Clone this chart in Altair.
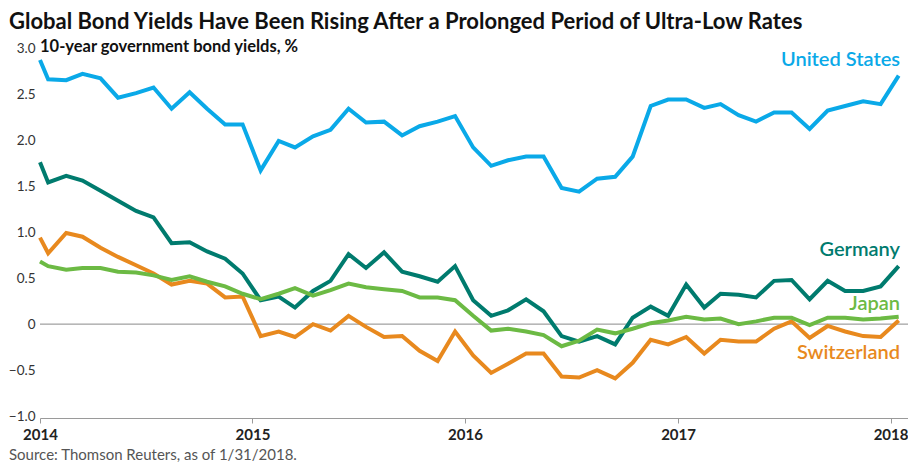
import altair as alt
import pandas as pd

# ---- data -------------------------------------------------------------
dates = ["2014-01-01"] + [f"{y}-{m:02d}-15" for y in range(2014, 2018) for m in range(1, 13)] + ["2018-01-15"]

united_states = [2.87, 2.66, 2.65, 2.72, 2.67, 2.46, 2.51, 2.57, 2.34, 2.52,
                 2.34, 2.17, 2.17, 1.67, 1.99, 1.92, 2.04, 2.11, 2.34, 2.19,
                 2.20, 2.05, 2.15, 2.20, 2.26, 1.92, 1.72, 1.78, 1.82, 1.82,
                 1.48, 1.44, 1.58, 1.60, 1.82, 2.37, 2.44, 2.44, 2.35, 2.39,
                 2.27, 2.20, 2.30, 2.30, 2.12, 2.32, 2.37, 2.42, 2.39, 2.70]
germany = [1.76, 1.54, 1.61, 1.56, 1.45, 1.34, 1.23, 1.16, 0.88, 0.89,
           0.79, 0.71, 0.55, 0.26, 0.30, 0.18, 0.36, 0.47, 0.76, 0.61,
           0.78, 0.57, 0.52, 0.46, 0.63, 0.26, 0.09, 0.15, 0.27, 0.14,
           -0.13, -0.19, -0.13, -0.22, 0.07, 0.19, 0.09, 0.43, 0.18, 0.33,
           0.32, 0.29, 0.47, 0.48, 0.27, 0.47, 0.36, 0.36, 0.41, 0.63]
japan = [0.68, 0.63, 0.59, 0.61, 0.61, 0.57, 0.56, 0.53, 0.48, 0.52,
         0.46, 0.41, 0.33, 0.27, 0.33, 0.39, 0.31, 0.37, 0.44, 0.40,
         0.38, 0.36, 0.29, 0.29, 0.26, 0.09, -0.07, -0.05, -0.08, -0.12,
         -0.24, -0.18, -0.06, -0.10, -0.05, 0.01, 0.04, 0.08, 0.05, 0.06,
         0.00, 0.03, 0.07, 0.07, -0.01, 0.07, 0.07, 0.05, 0.06, 0.08]
switzerland = [0.94, 0.77, 0.99, 0.95, 0.83, 0.73, 0.64, 0.55, 0.43, 0.47,
               0.44, 0.29, 0.30, -0.13, -0.08, -0.14, 0.00, -0.07, 0.09, -0.03,
               -0.14, -0.13, -0.29, -0.40, -0.08, -0.34, -0.53, -0.43, -0.32, -0.32,
               -0.57, -0.58, -0.50, -0.59, -0.42, -0.17, -0.22, -0.14, -0.32, -0.17,
               -0.19, -0.19, -0.05, 0.03, -0.15, -0.02, -0.08, -0.13, -0.14, 0.04]

series_names = ["Switzerland", "Germany", "Japan", "United States"]
series_values = [switzerland, germany, japan, united_states]
series_colors = ["#E8891E", "#007B6E", "#6CBA44", "#0AA9E8"]

y_ticks = [-1.0, -0.5, 0.0, 0.5, 1.0, 1.5, 2.0, 2.5, 3.0]
x_ticks = ["2014-01-01", "2015-01-01", "2016-01-01", "2017-01-01", "2018-01-01"]

title_text = "Global Bond Yields Have Been Rising After a Prolonged Period of Ultra-Low Rates"
subtitle_text = "10-year government bond yields, %"
source_text = "Source: Thomson Reuters, as of 1/31/2018."

# ---- chart ------------------------------------------------------------
W, H = 868, 370
FONT = "Lato"

x_scale = alt.Scale(domain=["2014-01-01", "2018-01-31"])
y_scale = alt.Scale(domain=[-1.02, 3.0], nice=False, zero=False)

x_axis = alt.Axis(values=x_ticks, format="%Y", title=None, grid=False,
                  labelFont=FONT, labelFontWeight="bold", labelFontSize=15,
                  labelColor="#222", labelPadding=4, labelFlush=False,
                  tickSize=5, tickColor="#9a9a9a", domainColor="#9a9a9a",
                  labelOverlap=False)
y_axis = alt.Axis(values=y_ticks, title=None, grid=False, domain=False, ticks=False,
                  labelExpr="datum.value == 0 ? '0' : format(datum.value, '.1f')",
                  labelFont=FONT, labelFontSize=13.5, labelColor="#333",
                  labelPadding=5, labelOverlap=False)

layers = []

zero_df = pd.DataFrame({"y": [0.0]})
layers.append(
    alt.Chart(zero_df).mark_rule(color="#8a8a8a", strokeWidth=1)
    .encode(y=alt.Y("y:Q", scale=y_scale, axis=y_axis))
)

for name, vals, col in zip(series_names, series_values, series_colors):
    df = pd.DataFrame({"date": dates, "value": vals})
    layers.append(
        alt.Chart(df).mark_line(color=col, strokeWidth=4, strokeJoin="miter")
        .encode(x=alt.X("date:T", scale=x_scale, axis=x_axis),
                y=alt.Y("value:Q", scale=y_scale, axis=y_axis))
    )


def text_layer(txt, x, y, color, size, weight="normal", align="left"):
    return alt.Chart(pd.DataFrame({"t": [txt]})).mark_text(
        font=FONT, fontSize=size, fontWeight=weight, color=color,
        align=align, baseline="middle"
    ).encode(text="t:N", x=alt.value(x), y=alt.value(y))


# page coords -> plot coords: plot origin at (40, 48)
layers.append(text_layer(title_text, -31, -26, "#111", 22, "bold"))
layers.append(text_layer(subtitle_text, 0, -1, "#111", 16.5, "bold"))
layers.append(text_layer(source_text, -31, 407, "#555", 15))

label_info = [("United States", 12, "#0AA9E8"), ("Germany", 202, "#007B6E"),
              ("Japan", 256, "#6CBA44"), ("Switzerland", 305, "#E8891E")]
for lab, ly, lc in label_info:
    layers.append(text_layer(lab, 860, ly, lc, 20, 600, align="right"))

chart = alt.layer(*layers).properties(
    width=W, height=H,
    autosize=alt.AutoSizeParams(type="none"),
    padding={"left": 32, "top": 40, "right": 0, "bottom": 44},
).configure_view(stroke=None)

chart.save("out.html", embed_options={"renderer": "svg", "actions": False})
